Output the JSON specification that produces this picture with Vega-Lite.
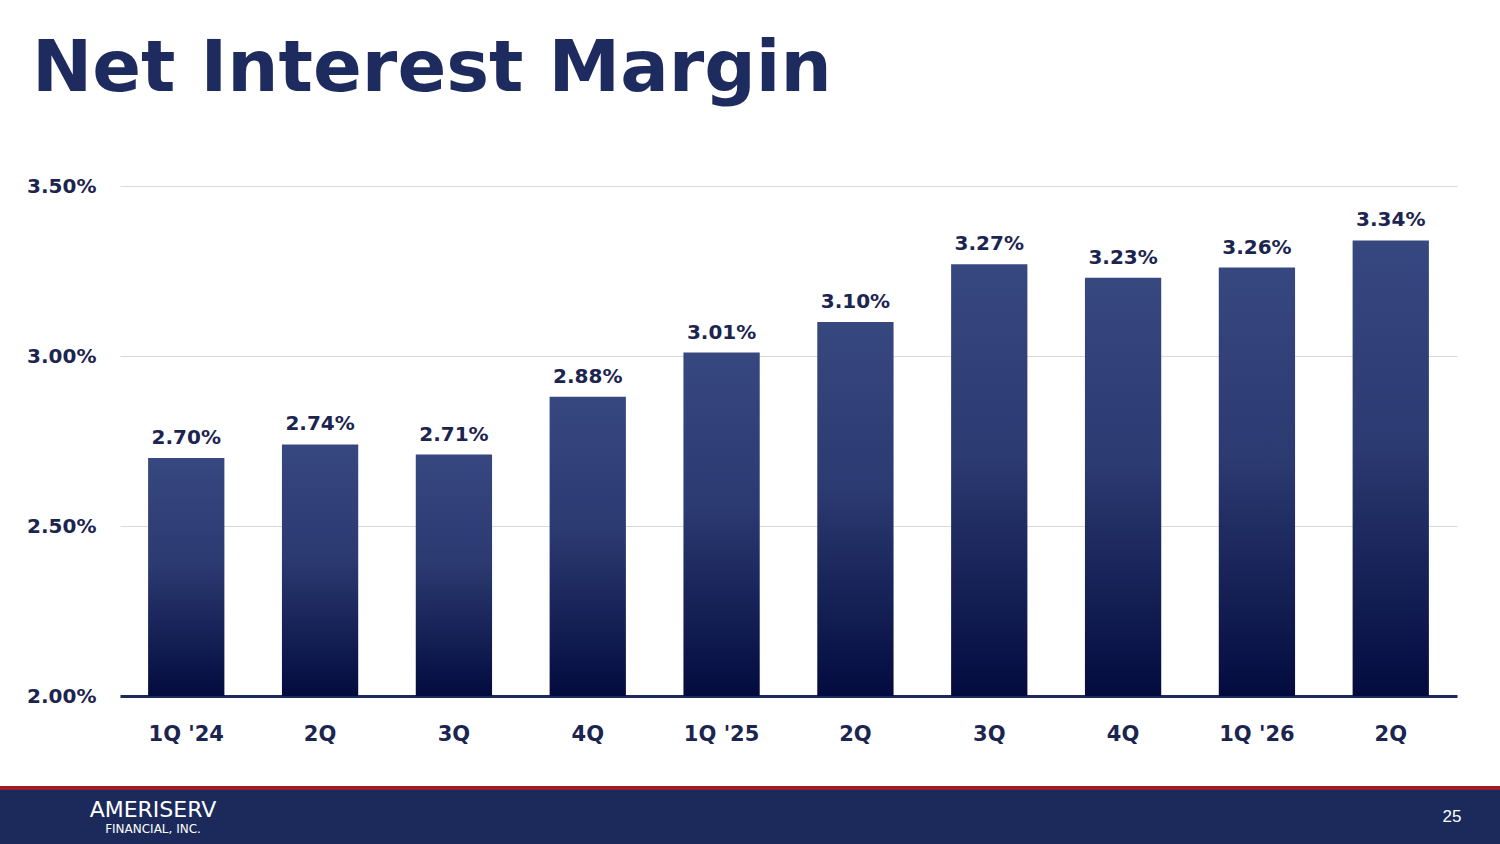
{
  "$schema": "https://vega.github.io/schema/vega-lite/v6.json",
  "padding": {"top": 33, "left": 0, "right": 0, "bottom": 0},
  "background": "white",
  "spacing": 42,
  "vconcat": [
    {
      "bounds": "flush",
      "spacing": 0,
      "data": {
        "values": [
          {"quarter": "1Q '24", "nim": 0.0270},
          {"quarter": "2Q ", "nim": 0.0274},
          {"quarter": "3Q ", "nim": 0.0271},
          {"quarter": "4Q ", "nim": 0.0288},
          {"quarter": "1Q '25", "nim": 0.0301},
          {"quarter": "2Q", "nim": 0.0310},
          {"quarter": "3Q", "nim": 0.0327},
          {"quarter": "4Q", "nim": 0.0323},
          {"quarter": "1Q '26", "nim": 0.0326},
          {"quarter": "2Q  ", "nim": 0.0334}
        ]
      },
      "hconcat": [
        {
          "width": 120,
          "height": 510,
          "view": {"stroke": null},
          "mark": {"type": "point", "opacity": 0},
          "encoding": {
            "y": {
              "field": "nim",
              "type": "quantitative",
              "scale": {"domain": [0.02, 0.035], "nice": false, "zero": false},
              "axis": {
                "title": null,
                "offset": -120,
                "values": [0.02, 0.025, 0.03, 0.035],
                "format": ".2%",
                "ticks": false,
                "domain": false,
                "grid": false,
                "labelPadding": 24,
                "labelFont": "DejaVu Sans",
                "labelFontWeight": "bold",
                "labelFontSize": 20,
                "labelColor": "#1c2450"
              }
            }
          }
        },
        {
          "width": 1337,
          "height": 510,
          "view": {"stroke": null},
          "title": {
            "text": "Net Interest Margin",
            "anchor": "start",
            "frame": "group",
            "dx": -88,
            "offset": 23,
            "baseline": "alphabetic",
            "font": "DejaVu Sans",
            "fontSize": 72,
            "fontWeight": "bold",
            "color": "#1d2b5e"
          },
          "encoding": {
            "x": {
              "field": "quarter",
              "type": "nominal",
              "sort": null,
              "scale": {"paddingInner": 0.43, "paddingOuter": 0.21},
              "axis": {
                "title": null,
                "labelAngle": 0,
                "ticks": false,
                "labelPadding": 27,
                "domainColor": "#1c2a5c",
                "domainWidth": 3,
                "labelFont": "DejaVu Sans",
                "labelFontWeight": "bold",
                "labelFontSize": 21,
                "labelColor": "#1c2450"
              }
            },
            "y": {
              "field": "nim",
              "type": "quantitative",
              "scale": {"domain": [0.02, 0.035], "nice": false, "zero": false},
              "axis": {
                "title": null,
                "labels": false,
                "values": [0.02, 0.025, 0.03, 0.035],
                "ticks": false,
                "domain": false,
                "gridColor": "#d9d9d9",
                "gridWidth": 1
              }
            }
          },
          "layer": [
            {
              "mark": {
                "type": "bar",
                "color": {
                  "gradient": "linear",
                  "x1": 0, "y1": 0, "x2": 0, "y2": 1,
                  "stops": [
                    {"offset": 0, "color": "#37477f"},
                    {"offset": 0.45, "color": "#2b3a71"},
                    {"offset": 1, "color": "#030b3e"}
                  ]
                }
              },
              "encoding": {
                "y2": {"datum": 0.02}
              }
            },
            {
              "mark": {
                "type": "text",
                "baseline": "alphabetic",
                "dy": -14,
                "font": "DejaVu Sans",
                "fontWeight": "bold",
                "fontSize": 20,
                "color": "#1c2450"
              },
              "encoding": {
                "text": {"field": "nim", "type": "quantitative", "format": ".2%"}
              }
            }
          ]
        }
      ]
    },
    {
      "bounds": "flush",
      "spacing": 0,
      "vconcat": [
        {
          "width": 1500,
          "height": 4,
          "view": {"fill": "#9e1b2a", "stroke": null},
          "data": {"values": []},
          "mark": "rect"
        },
        {
          "bounds": "flush",
          "spacing": 0,
          "hconcat": [
            {
              "width": 306,
              "height": 54,
              "view": {"fill": "#1b2a5a", "stroke": null},
              "data": {"values": [{"name": "AMERISERV", "sub": "FINANCIAL, INC."}]},
              "layer": [
                {
                  "mark": {"type": "text", "dy": -7, "font": "DejaVu Sans", "fontSize": 22, "color": "white"},
                  "encoding": {"text": {"field": "name"}}
                },
                {
                  "mark": {"type": "text", "dy": 12, "font": "DejaVu Sans", "fontSize": 12, "color": "white"},
                  "encoding": {"text": {"field": "sub"}}
                }
              ]
            },
            {
              "width": 1098,
              "height": 54,
              "view": {"fill": "#1b2a5a", "stroke": null},
              "data": {"values": []},
              "mark": "rect"
            },
            {
              "width": 96,
              "height": 54,
              "view": {"fill": "#1b2a5a", "stroke": null},
              "data": {"values": [{"page": "25"}]},
              "mark": {"type": "text", "font": "Liberation Sans", "fontSize": 17, "color": "white"},
              "encoding": {"text": {"field": "page"}}
            }
          ]
        }
      ]
    }
  ]
}
